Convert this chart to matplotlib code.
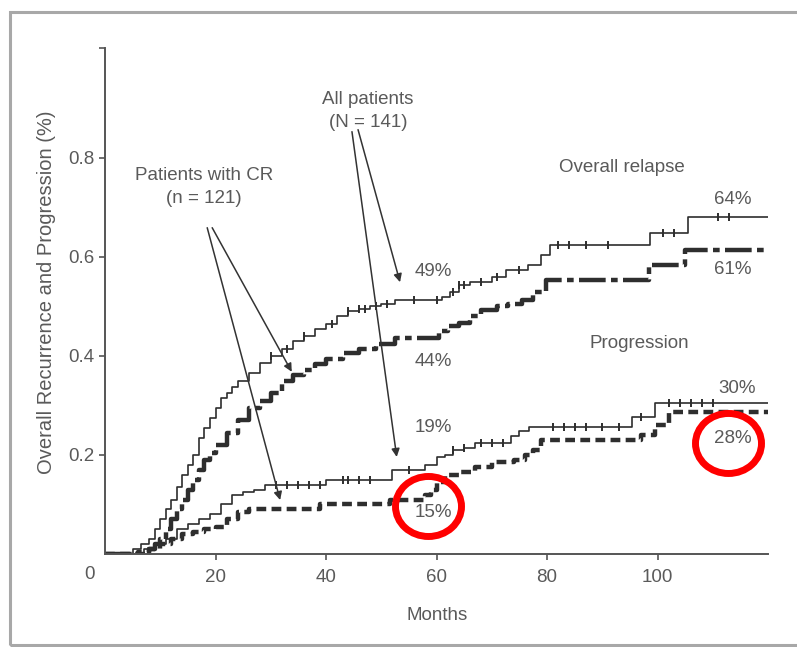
import numpy as np
import matplotlib
matplotlib.use("Agg")
import matplotlib.pyplot as plt
from matplotlib.patches import Ellipse, Rectangle

plt.rcParams['font.family'] = ['Liberation Sans', 'DejaVu Sans']

# -------- DATA --------
# All patients, overall relapse (thin solid)
all_rel_t = [0, 5, 6.5, 8, 9, 10, 11, 12, 13, 14, 15, 16, 17, 18, 19, 20, 21, 22, 23,
             24, 26, 28, 30, 32, 34, 36, 38, 40, 42, 44, 46, 48, 50, 52.5, 61, 62.5,
             64, 66, 70, 72.5, 76.5, 79, 80.5, 98.7, 105.5, 120]
all_rel_v = [0, 0.01, 0.02, 0.03, 0.05, 0.07, 0.09, 0.11, 0.135, 0.16, 0.18, 0.2, 0.235,
             0.255, 0.275, 0.295, 0.315, 0.325, 0.337, 0.35, 0.365, 0.385, 0.40, 0.415,
             0.43, 0.44, 0.455, 0.465, 0.48, 0.49, 0.495, 0.50, 0.505, 0.513, 0.52,
             0.53, 0.543, 0.55, 0.56, 0.574, 0.584, 0.604, 0.624, 0.648, 0.681, 0.681]
all_rel_cens = [30, 33, 36, 41, 44, 46, 47, 49, 51, 56, 60, 63, 64, 65, 68, 71, 75,
                82, 84, 87, 91, 101, 103, 111, 113]

# Patients with CR, overall relapse (thick dash-dot)
cr_rel_t = [0, 6, 8, 9, 10, 11, 12, 13, 14, 15, 16, 17, 18, 19, 20, 22, 24, 26, 28,
            30, 32, 34, 36, 38, 40, 43, 46, 49, 52.5, 60.5, 62, 64, 66, 68, 71, 73,
            75.5, 77.5, 79.8, 98.4, 105, 120]
cr_rel_v = [0, 0.005, 0.01, 0.02, 0.03, 0.05, 0.07, 0.09, 0.11, 0.13, 0.15, 0.17, 0.19,
            0.205, 0.22, 0.245, 0.27, 0.295, 0.31, 0.325, 0.35, 0.362, 0.372, 0.383,
            0.394, 0.405, 0.415, 0.425, 0.436, 0.45, 0.46, 0.467, 0.48, 0.493, 0.5,
            0.505, 0.513, 0.53, 0.553, 0.584, 0.614, 0.614]

# All patients, progression (thin solid)
all_prog_t = [0, 7, 9, 11, 13, 15, 17, 19, 21, 23, 25, 27, 29, 40, 52, 58, 60, 61.5,
              63, 65, 67, 70, 73.5, 75, 76.7, 95.3, 99.6, 120]
all_prog_v = [0, 0.01, 0.02, 0.03, 0.05, 0.06, 0.07, 0.08, 0.1, 0.12, 0.125, 0.13,
              0.139, 0.149, 0.17, 0.18, 0.196, 0.2, 0.21, 0.215, 0.224, 0.224, 0.238,
              0.248, 0.257, 0.277, 0.305, 0.305]
all_prog_cens = [31, 33, 35, 37, 39, 43, 44, 46, 48, 55, 63, 65, 68, 70, 72, 81, 83,
                 85, 87, 90, 93, 97, 102, 104, 106, 108, 110]

# Patients with CR, progression (thick dashed)
cr_prog_t = [0, 8, 10, 12, 14, 16, 18, 20, 22, 24, 26, 39, 51.5, 58, 59, 60, 61.5, 64,
             67, 70, 74, 76, 77.5, 79, 95, 97, 99.6, 102, 120]
cr_prog_v = [0, 0.01, 0.02, 0.03, 0.04, 0.045, 0.05, 0.055, 0.07, 0.085, 0.09, 0.1,
             0.11, 0.12, 0.13, 0.145, 0.16, 0.165, 0.175, 0.185, 0.19, 0.2, 0.21, 0.23,
             0.23, 0.24, 0.26, 0.287, 0.287]

pct_labels = ["49%", "44%", "19%", "15%", "64%", "61%", "30%", "28%"]
pct_pos = [(59.4, 0.570), (59.4, 0.388), (59.4, 0.255), (59.4, 0.083),
           (113.7, 0.715), (113.7, 0.574), (114.4, 0.335), (113.7, 0.234)]

Y_TOP = 1.022
ytick_vals = [0.2, 0.4, 0.6, 0.8, Y_TOP]
ytick_labels = ["0.2", "0.4", "0.6", "0.8", ""]
xtick_vals = [20, 40, 60, 80, 100]

W, H = 797, 647
TXT = "#5a5a5a"
LN = "#2e2e2e"
FS = 13.5


def step_at(t, v, x):
    idx = np.searchsorted(t, x, side="right") - 1
    return np.asarray(v)[idx]


fig = plt.figure(figsize=(W / 100, H / 100), dpi=100)
ax = fig.add_axes([105 / W, 1 - 554 / H, (768 - 105) / W, (554 - 48) / H])

# -------- CURVES --------
ax.step(all_rel_t, all_rel_v, where="post", color=LN, lw=1.2)
ax.step(cr_rel_t, cr_rel_v, where="post", color=LN, lw=3.2,
        linestyle=(0, (6, 1.2, 1.5, 1.2)))
ax.step(all_prog_t, all_prog_v, where="post", color=LN, lw=1.2)
ax.step(cr_prog_t, cr_prog_v, where="post", color=LN, lw=3.2,
        linestyle=(0, (2.2, 1.2)))

# censor ticks on the thin curves
ax.plot(all_rel_cens, step_at(all_rel_t, all_rel_v, all_rel_cens), "|",
        color=LN, ms=6, mew=1.4)
ax.plot(all_prog_cens, step_at(all_prog_t, all_prog_v, all_prog_cens), "|",
        color=LN, ms=6, mew=1.4)

# -------- AXES --------
ax.set_xlim(0, 120)
ax.set_ylim(0, Y_TOP)
for s in ["top", "right"]:
    ax.spines[s].set_visible(False)
for s in ["left", "bottom"]:
    ax.spines[s].set_color("#555555")
    ax.spines[s].set_linewidth(1.4)
ax.set_yticks(ytick_vals)
ax.set_yticklabels(ytick_labels)
ax.set_xticks(xtick_vals)
ax.tick_params(colors="#555555", labelcolor=TXT, labelsize=FS, length=4, width=1.2)
ax.tick_params(axis="x", pad=7)
ax.text(-2.8, -0.042, "0", ha="center", va="center", fontsize=FS, color=TXT)
ax.set_xlabel("Months", fontsize=FS, color=TXT)
ax.xaxis.set_label_coords((437 - 105) / 663, -(607 - 554) / 506)
ax.set_ylabel("Overall Recurrence and Progression (%)", fontsize=14.5, color=TXT)
ax.yaxis.set_label_coords(-(105 - 56) / 663, (554 - 292) / 506)

# -------- ANNOTATIONS --------
ax.text(17.9, 0.741, "Patients with CR\n(n = 121)", ha="center", va="center",
        fontsize=FS, color=TXT, linespacing=1.5)
ax.text(47.6, 0.895, "All patients\n(N = 141)", ha="center", va="center",
        fontsize=FS, color=TXT, linespacing=1.5)
ax.text(93.6, 0.780, "Overall relapse", ha="center", va="center", fontsize=FS, color=TXT)
ax.text(96.7, 0.426, "Progression", ha="center", va="center", fontsize=FS, color=TXT)
for lab, (x, y) in zip(pct_labels, pct_pos):
    ax.text(x, y, lab, ha="center", va="center", fontsize=FS, color=TXT)

arrows = [((18.5, 0.659), (31.7, 0.109)),
          ((19.4, 0.659), (33.8, 0.368)),
          ((45.8, 0.857), (53.4, 0.549)),
          ((44.7, 0.853), (52.8, 0.196))]
for (x0, y0), (x1, y1) in arrows:
    ax.annotate("", xy=(x1, y1), xytext=(x0, y0),
                arrowprops=dict(arrowstyle="-|>", color="#333333", lw=1.1,
                                mutation_scale=12, shrinkA=0, shrinkB=0))

# red highlight circles
for cx, cy in [(428.5, 506.5), (728.5, 443.5)]:
    ax.add_patch(Ellipse(((cx - 105) / 5.525, (554 - cy) / 495), 66 / 5.525, 60 / 495,
                         fill=False, edgecolor="#ff0000", lw=5, clip_on=False, zorder=5))

# scan frame
fig.add_artist(Rectangle((10 / W, 2 / H), 1.0, (645 - 12) / H, transform=fig.transFigure,
                         fill=False, edgecolor="#a8a8a8", lw=2.2))

fig.savefig("out.png", dpi=100)
